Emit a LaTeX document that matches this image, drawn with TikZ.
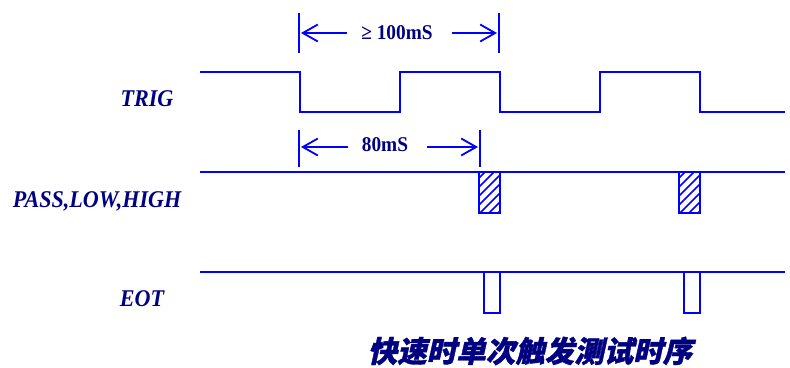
\documentclass[tikz,border=0pt]{standalone}
\usepackage{fontspec}
\setmainfont{Liberation Serif}
\newfontfamily\lblfont[FakeStretch=0.92]{Liberation Serif}
\newfontfamily\dimfont[FakeStretch=0.92]{Liberation Serif}
\newfontfamily\cjk[FakeSlant=0.22,FakeBold=1.2]{Noto Sans CJK SC}
\usetikzlibrary{arrows.meta}
\definecolor{sigblue}{RGB}{0,0,255}
\definecolor{lblnavy}{RGB}{0,0,128}
\tikzset{
  sig/.style={draw=sigblue,line width=1.8pt},
  lbl/.style={text=lblnavy,inner sep=0pt,font=\lblfont\fontsize{24}{24}\selectfont\bfseries\itshape},
  dimtxt/.style={text=lblnavy,inner sep=0pt,font=\dimfont\fontsize{21}{21}\selectfont\bfseries},
  dimarrow/.style={draw=sigblue,line width=1.8pt,-{Straight Barb[length=15pt,width=17pt]}},
  hatch/.style={draw=sigblue,line width=1.5pt},
}
\begin{document}
\begin{tikzpicture}[x=1pt,y=-1pt]
\useasboundingbox (0,0) rectangle (790,367);

% signal names
\node[lbl] (trig) at (147,99) {TRIG};
\node[lbl] (plh) at (97,201) {PASS,LOW,HIGH};
\node[lbl] (eot) at (142,299) {EOT};

% TRIG waveform
\coordinate (t0) at (200,72);
\coordinate (t1) at (785,112);
\draw[sig] (t0) -- (300,72) -- (300,112) -- (400,112) -- (400,72) -- (500,72)
  -- (500,112) -- (600,112) -- (600,72) -- (700,72) -- (700,112) -- (t1);

% PASS,LOW,HIGH waveform with hatched result windows
\coordinate (p0) at (200,172);
\coordinate (p1) at (785,172);
\draw[sig] (p0) -- (p1);
\foreach \xa in {479,679}{
  \begin{scope}
    \clip (\xa,172) rectangle (\xa+21,213);
    \foreach \k in {0,...,7}
      \draw[hatch] (\xa-2,180+9*\k) -- ++(30,-30);
  \end{scope}
  \draw[sig] (\xa,172) rectangle (\xa+21,213);
}

% EOT waveform
\coordinate (e0) at (200,272);
\coordinate (e1) at (785,272);
\draw[sig] (e0) -- (p1 |- e1);
\foreach \xa in {484,684}
  \draw[sig] (\xa,272) -- (\xa,313) -- (\xa+16,313) -- (\xa+16,272);

% trigger period dimension
\coordinate (da0) at (299,13);
\coordinate (da1) at (299,53);
\coordinate (db0) at (499,13);
\coordinate (db1) at (499,53);
\draw[sig] (da0) -- (da1);
\draw[sig] (db0) -- (db1);
\node[dimtxt] (per) at (397,33) {≥ 100mS};
\coordinate (pl) at (347,33);
\coordinate (pr) at (452,33);
\draw[dimarrow] (pl) -- (301,33);
\draw[dimarrow] (pr) -- (497,33);

% test time dimension
\coordinate (dc0) at (299,130);
\coordinate (dc1) at (299,167);
\coordinate (dd0) at (480,130);
\coordinate (dd1) at (480,167);
\draw[sig] (dc0) -- (dc1);
\draw[sig] (dd0) -- (dd1);
\node[dimtxt] (tt) at (385,145) {80mS};
\coordinate (ql) at (348,147);
\coordinate (qr) at (427,147);
\draw[dimarrow] (ql) -- (301,147);
\draw[dimarrow] (qr) -- (478,147);

% caption
\node[text=lblnavy,inner sep=0pt,font=\cjk\bfseries\fontsize{29.5}{30}\selectfont] (cap) at (530,351) {快速时单次触发测试时序};
\end{tikzpicture}
\end{document}
